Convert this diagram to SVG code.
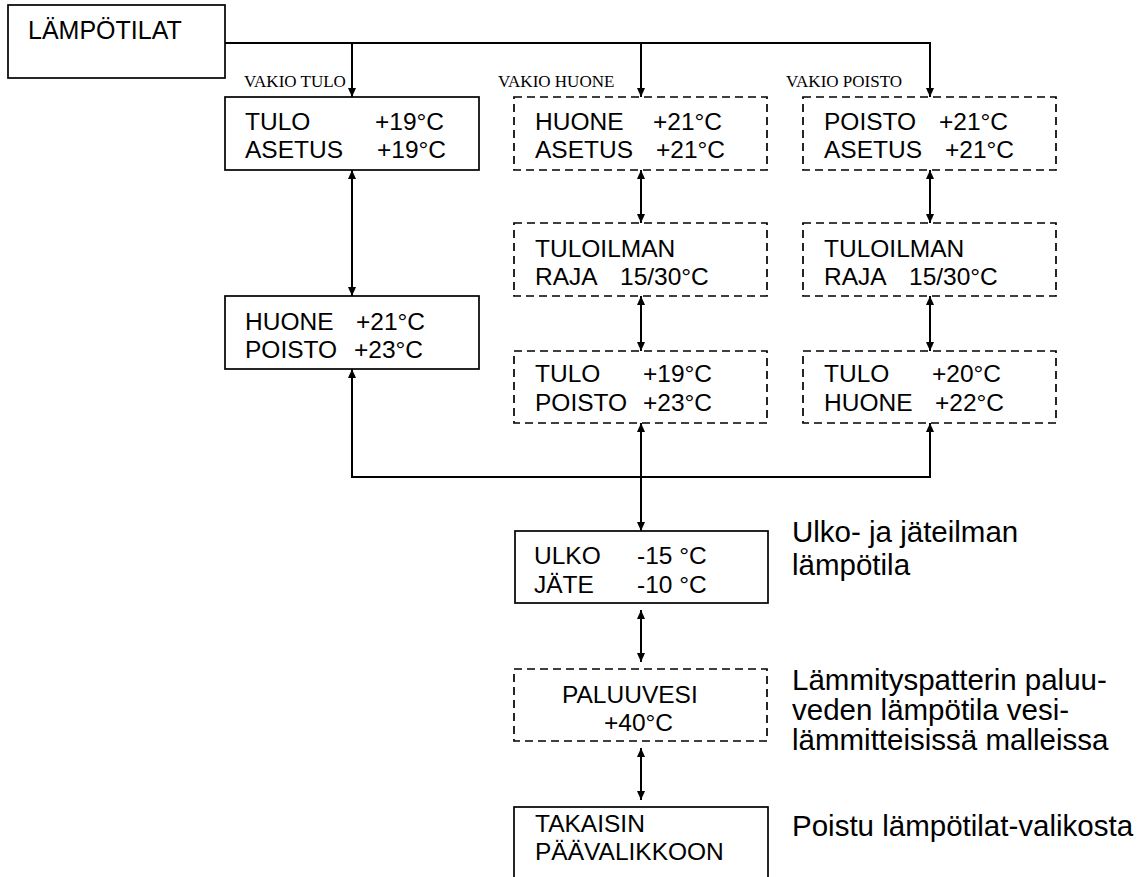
<svg xmlns="http://www.w3.org/2000/svg" width="1145" height="877" viewBox="0 0 1145 877">
<style>
  .box { fill: #ffffff; stroke: #000000; stroke-width: 1.7; }
  .dash { fill: #ffffff; stroke: #000000; stroke-width: 1.7; stroke-dasharray: 8 5; }
  .t { font-family: "Liberation Sans", Arial, sans-serif; font-size: 24.5px; fill: #000000; }
  .big { font-family: "Liberation Sans", Arial, sans-serif; font-size: 29.5px; fill: #000000; }
  .lbl { font-family: "Liberation Serif", "Times New Roman", serif; font-size: 17px; fill: #000000; }
  .con { fill: none; stroke: #000000; stroke-width: 2; }
</style>
<defs>
  <marker id="arr" viewBox="0 0 9 8" refX="9" refY="4" markerWidth="9" markerHeight="8" markerUnits="userSpaceOnUse" orient="auto-start-reverse">
    <path d="M0,0 L9,4 L0,8 z" fill="#000000"/>
  </marker>
</defs>
<rect width="1145" height="877" fill="#ffffff"/>

<g id="connectors">
  <path class="con" d="M225,43 H930 V97" marker-end="url(#arr)"/>
  <path class="con" d="M352,43 V97" marker-end="url(#arr)"/>
  <path class="con" d="M641,43 V97" marker-end="url(#arr)"/>
  <path class="con" d="M352,170 V296" marker-start="url(#arr)" marker-end="url(#arr)"/>
  <path class="con" d="M641,170 V223" marker-start="url(#arr)" marker-end="url(#arr)"/>
  <path class="con" d="M641,296 V351" marker-start="url(#arr)" marker-end="url(#arr)"/>
  <path class="con" d="M930,170 V223" marker-start="url(#arr)" marker-end="url(#arr)"/>
  <path class="con" d="M930,296 V351" marker-start="url(#arr)" marker-end="url(#arr)"/>
  <path class="con" d="M352,369 V477 H930 V423" marker-start="url(#arr)" marker-end="url(#arr)"/>
  <path class="con" d="M641,423 V531" marker-start="url(#arr)" marker-end="url(#arr)"/>
  <path class="con" d="M641,610 V662" marker-start="url(#arr)" marker-end="url(#arr)"/>
  <path class="con" d="M641,748 V800" marker-start="url(#arr)" marker-end="url(#arr)"/>
</g>

<g id="labels">
  <text class="lbl" x="244" y="87">VAKIO TULO</text>
  <text class="lbl" x="498" y="87">VAKIO HUONE</text>
  <text class="lbl" x="786" y="87">VAKIO POISTO</text>
</g>

<g id="lampotilat">
  <rect class="box" x="8" y="5" width="217" height="73"/>
  <text class="t" x="28" y="39" style="font-size:25px">LÄMPÖTILAT</text>
</g>

<g id="vakio-tulo-1">
  <rect class="box" x="225" y="97" width="254" height="73"/>
  <text class="t" x="245" y="130">TULO</text>
  <text class="t" x="375" y="130">+19°C</text>
  <text class="t" x="245" y="158">ASETUS</text>
  <text class="t" x="377" y="158">+19°C</text>
</g>

<g id="vakio-tulo-2">
  <rect class="box" x="225" y="296" width="254" height="73"/>
  <text class="t" x="245" y="330">HUONE</text>
  <text class="t" x="356" y="330">+21°C</text>
  <text class="t" x="245" y="358">POISTO</text>
  <text class="t" x="354" y="358">+23°C</text>
</g>

<g id="vakio-huone-1">
  <rect class="dash" x="514" y="97" width="253" height="73"/>
  <text class="t" x="535" y="130">HUONE</text>
  <text class="t" x="653" y="130">+21°C</text>
  <text class="t" x="535" y="158">ASETUS</text>
  <text class="t" x="656" y="158">+21°C</text>
</g>

<g id="vakio-huone-2">
  <rect class="dash" x="514" y="223" width="253" height="73"/>
  <text class="t" x="535" y="257">TULOILMAN</text>
  <text class="t" x="535" y="285">RAJA</text>
  <text class="t" x="620" y="285">15/30°C</text>
</g>

<g id="vakio-huone-3">
  <rect class="dash" x="514" y="351" width="253" height="72"/>
  <text class="t" x="535" y="382">TULO</text>
  <text class="t" x="643" y="382">+19°C</text>
  <text class="t" x="535" y="411">POISTO</text>
  <text class="t" x="643" y="411">+23°C</text>
</g>

<g id="vakio-poisto-1">
  <rect class="dash" x="803" y="97" width="253" height="73"/>
  <text class="t" x="824" y="130">POISTO</text>
  <text class="t" x="939" y="130">+21°C</text>
  <text class="t" x="824" y="158">ASETUS</text>
  <text class="t" x="945" y="158">+21°C</text>
</g>

<g id="vakio-poisto-2">
  <rect class="dash" x="803" y="223" width="253" height="73"/>
  <text class="t" x="824" y="257">TULOILMAN</text>
  <text class="t" x="824" y="285">RAJA</text>
  <text class="t" x="909" y="285">15/30°C</text>
</g>

<g id="vakio-poisto-3">
  <rect class="dash" x="803" y="351" width="253" height="72"/>
  <text class="t" x="824" y="382">TULO</text>
  <text class="t" x="932" y="382">+20°C</text>
  <text class="t" x="824" y="411">HUONE</text>
  <text class="t" x="935" y="411">+22°C</text>
</g>

<g id="ulko">
  <rect class="box" x="515" y="531" width="253" height="72"/>
  <text class="t" x="534" y="564">ULKO</text>
  <text class="t" x="637" y="564">-15 °C</text>
  <text class="t" x="534" y="593">JÄTE</text>
  <text class="t" x="637" y="593">-10 °C</text>
  <text class="big" x="792" y="542">Ulko- ja jäteilman</text>
  <text class="big" x="792" y="575">lämpötila</text>
</g>

<g id="paluuvesi">
  <rect class="dash" x="514" y="669" width="253" height="72"/>
  <text class="t" x="562" y="703">PALUUVESI</text>
  <text class="t" x="604" y="731">+40°C</text>
  <text class="big" x="792" y="690">Lämmityspatterin paluu-</text>
  <text class="big" x="792" y="720">veden lämpötila vesi-</text>
  <text class="big" x="792" y="750">lämmitteisissä malleissa</text>
</g>

<g id="takaisin">
  <rect class="box" x="514" y="807" width="254" height="80"/>
  <text class="t" x="535" y="832">TAKAISIN</text>
  <text class="t" x="535" y="860">PÄÄVALIKKOON</text>
  <text class="big" x="792" y="836">Poistu lämpötilat-valikosta</text>
</g>
</svg>
